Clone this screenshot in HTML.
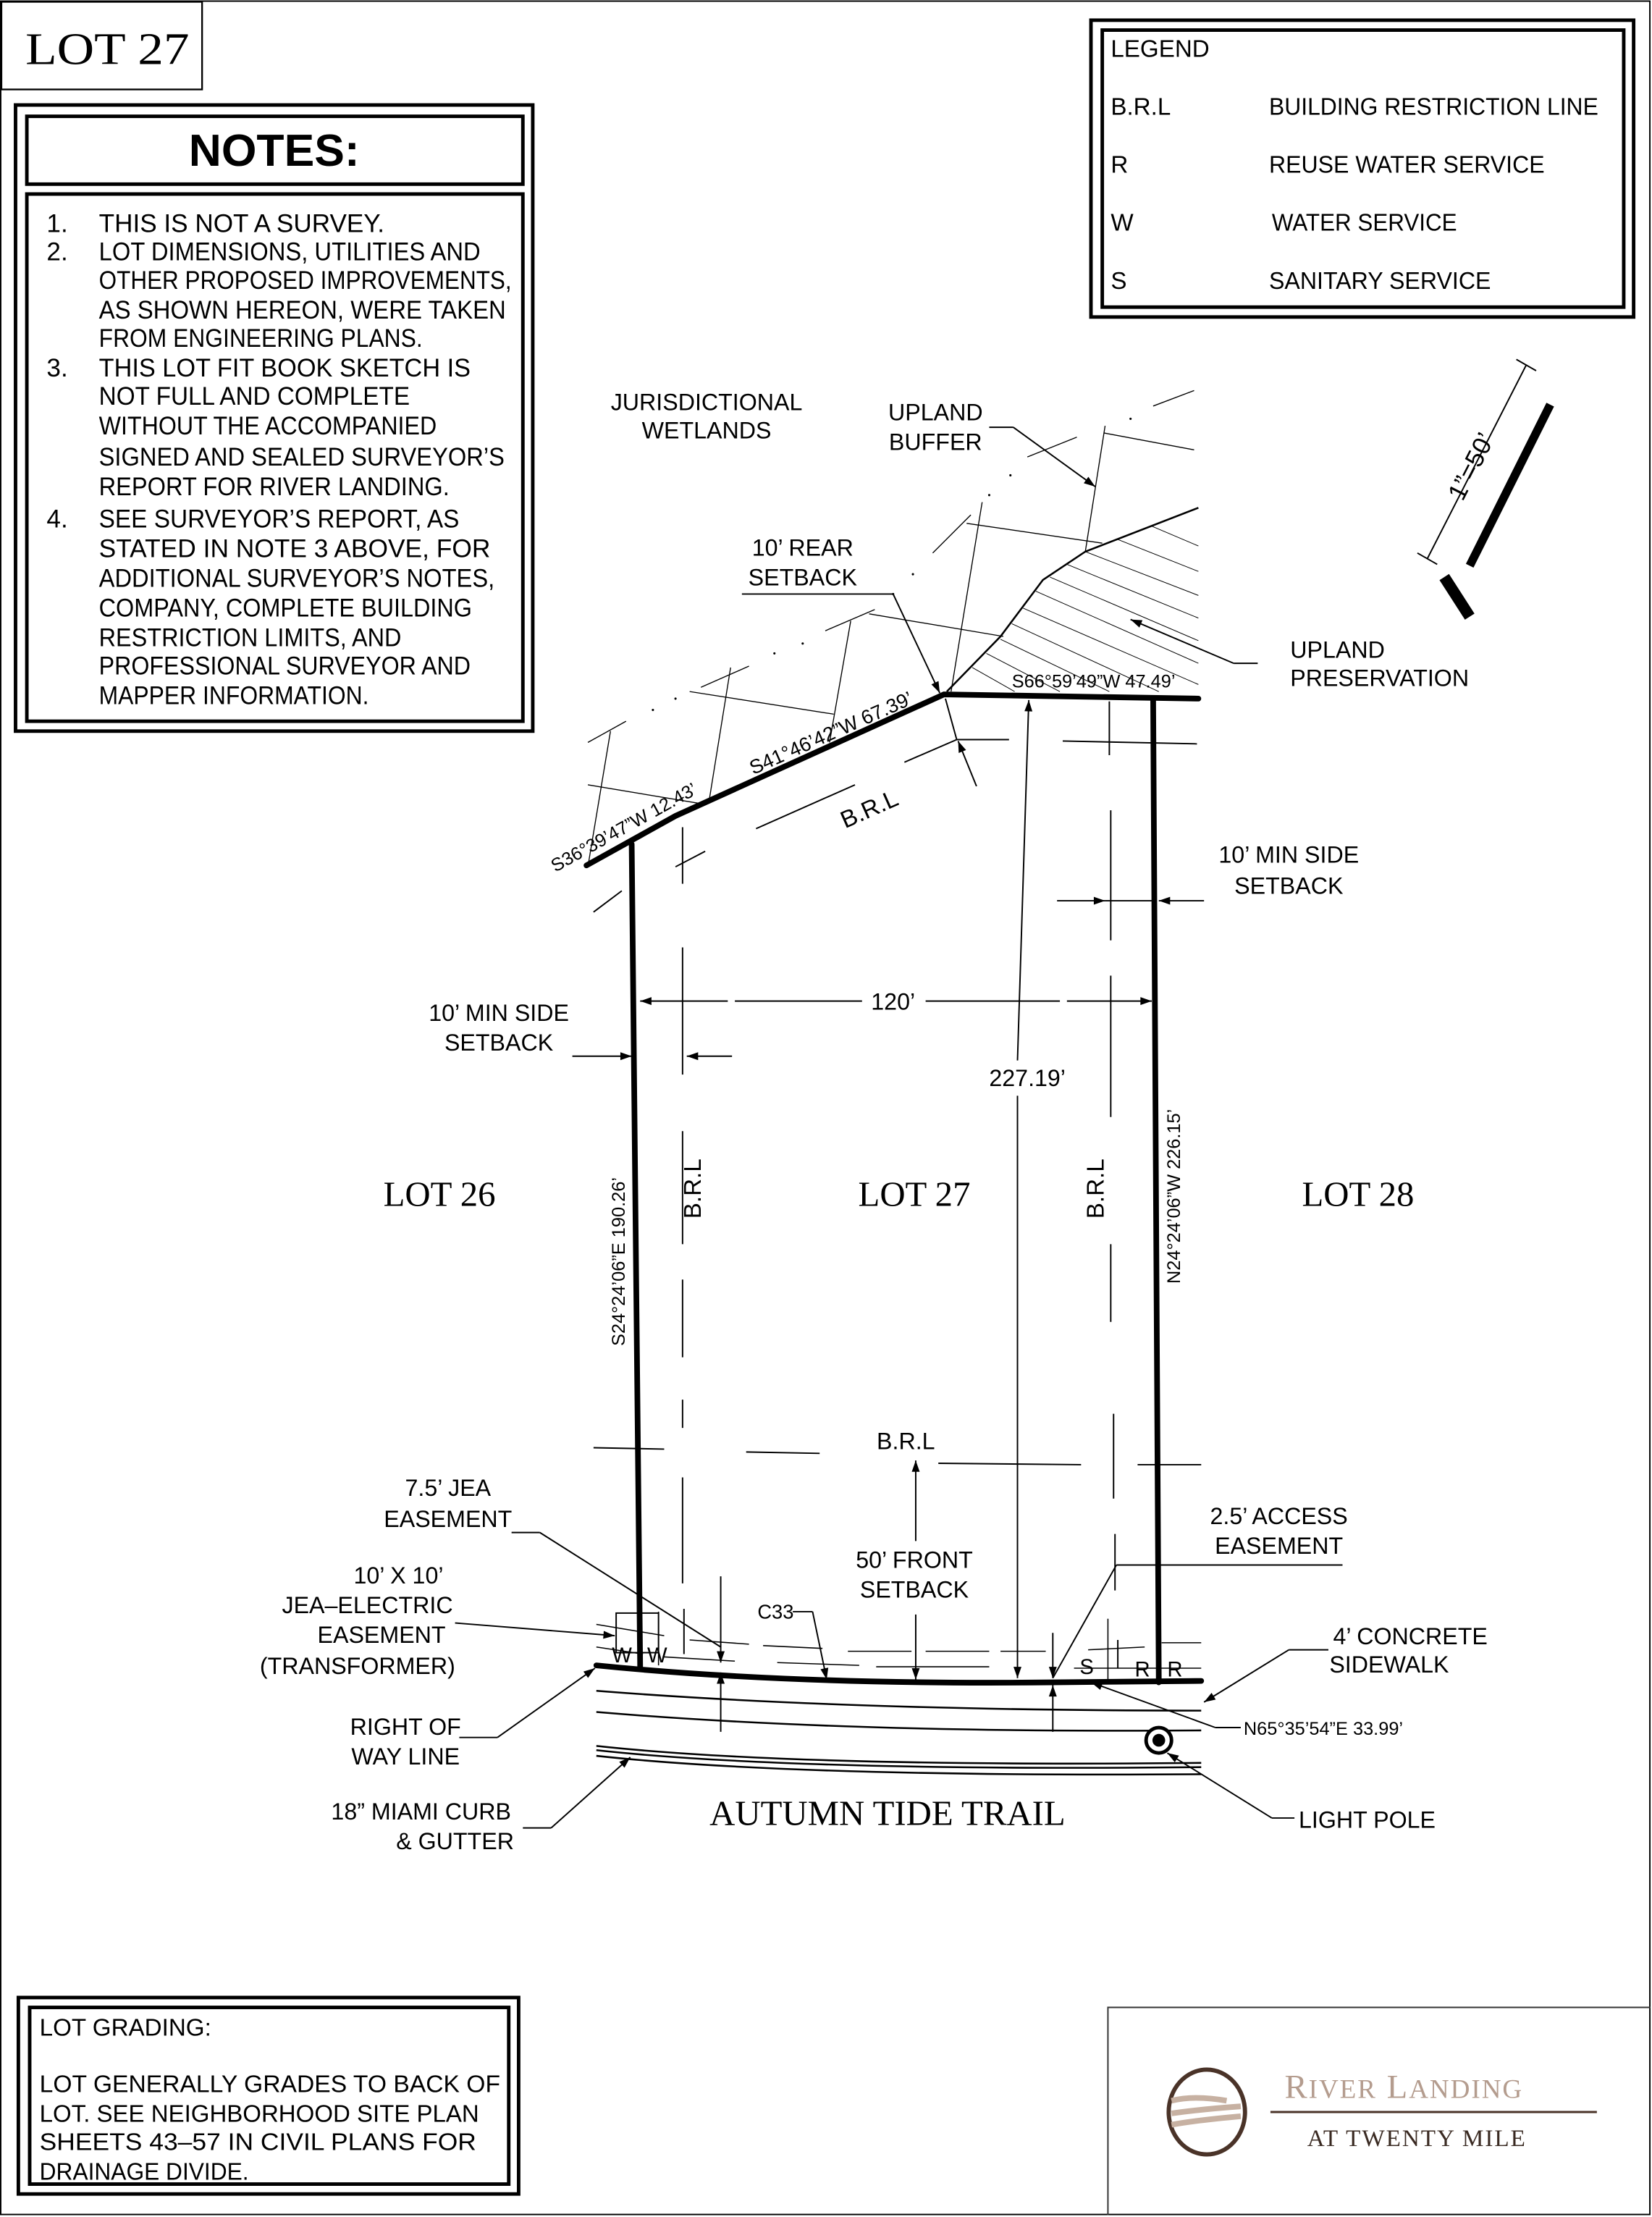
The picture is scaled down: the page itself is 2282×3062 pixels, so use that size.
<!DOCTYPE html>
<html><head><meta charset="utf-8"><style>
html,body{margin:0;padding:0;background:#fff}
svg{display:block}
text{font-family:"Liberation Sans Narrow","Liberation Sans",sans-serif;fill:#000}
.n{font-size:18px}
.s{font-family:"Liberation Serif",serif}
</style></head><body>
<svg width="2282" height="3062" viewBox="0 0 1169 1568" xmlns="http://www.w3.org/2000/svg">
<defs>
<marker id="a" viewBox="0 0 10 10" refX="10" refY="5" markerWidth="12" markerHeight="8" markerUnits="userSpaceOnUse" orient="auto"><path d="M0,1.5 L10,5 L0,8.5 z" fill="#000"/></marker>
</defs>
<rect x="0.5" y="0.5" width="1167" height="1566" fill="none" stroke="#000" stroke-width="1"/>
<rect x="1" y="1" width="142" height="62" fill="none" stroke="#000" stroke-width="1.2"/>
<text x="18" y="45" class="s" font-size="32" textLength="116" lengthAdjust="spacingAndGlyphs">LOT 27</text>
<rect x="11" y="74" width="366" height="443" fill="none" stroke="#000" stroke-width="2.5"/>
<rect x="19" y="82" width="351" height="48" fill="none" stroke="#000" stroke-width="2.5"/>
<rect x="19" y="137" width="351" height="373" fill="none" stroke="#000" stroke-width="2.5"/>
<text x="194" y="117" font-size="32" font-weight="bold" text-anchor="middle" style="font-family:'Liberation Sans',sans-serif">NOTES:</text>
<g class="n">
<text x="33" y="164" class="n">1.</text><text x="70" y="164" class="n" textLength="202" lengthAdjust="spacingAndGlyphs">THIS IS NOT A SURVEY.</text>
<text x="33" y="184" class="n">2.</text><text x="70" y="184" class="n" textLength="270" lengthAdjust="spacingAndGlyphs">LOT DIMENSIONS, UTILITIES AND</text>
<text x="70" y="204" class="n" textLength="292" lengthAdjust="spacingAndGlyphs">OTHER PROPOSED IMPROVEMENTS,</text>
<text x="70" y="225" class="n" textLength="288" lengthAdjust="spacingAndGlyphs">AS SHOWN HEREON, WERE TAKEN</text>
<text x="70" y="245" class="n" textLength="229" lengthAdjust="spacingAndGlyphs">FROM ENGINEERING PLANS.</text>
<text x="33" y="266" class="n">3.</text><text x="70" y="266" class="n" textLength="263" lengthAdjust="spacingAndGlyphs">THIS LOT FIT BOOK SKETCH IS</text>
<text x="70" y="286" class="n" textLength="220" lengthAdjust="spacingAndGlyphs">NOT FULL AND COMPLETE</text>
<text x="70" y="307" class="n" textLength="239" lengthAdjust="spacingAndGlyphs">WITHOUT THE ACCOMPANIED</text>
<text x="70" y="329" class="n" textLength="287" lengthAdjust="spacingAndGlyphs">SIGNED AND SEALED SURVEYOR’S</text>
<text x="70" y="350" class="n" textLength="248" lengthAdjust="spacingAndGlyphs">REPORT FOR RIVER LANDING.</text>
<text x="33" y="373" class="n">4.</text><text x="70" y="373" class="n" textLength="255" lengthAdjust="spacingAndGlyphs">SEE SURVEYOR’S REPORT, AS</text>
<text x="70" y="394" class="n" textLength="277" lengthAdjust="spacingAndGlyphs">STATED IN NOTE 3 ABOVE, FOR</text>
<text x="70" y="415" class="n" textLength="280" lengthAdjust="spacingAndGlyphs">ADDITIONAL SURVEYOR’S NOTES,</text>
<text x="70" y="436" class="n" textLength="264" lengthAdjust="spacingAndGlyphs">COMPANY, COMPLETE BUILDING</text>
<text x="70" y="457" class="n" textLength="214" lengthAdjust="spacingAndGlyphs">RESTRICTION LIMITS, AND</text>
<text x="70" y="477" class="n" textLength="263" lengthAdjust="spacingAndGlyphs">PROFESSIONAL SURVEYOR AND</text>
<text x="70" y="498" class="n" textLength="191" lengthAdjust="spacingAndGlyphs">MAPPER INFORMATION.</text>
</g>
<rect x="772" y="14" width="384" height="210" fill="none" stroke="#000" stroke-width="2.5"/>
<rect x="780" y="21" width="369" height="196" fill="none" stroke="#000" stroke-width="2.5"/>
<text x="786" y="40" font-size="17">LEGEND</text>
<text x="786" y="81" font-size="17">B.R.L</text><text x="898" y="81" font-size="17" textLength="233" lengthAdjust="spacingAndGlyphs">BUILDING RESTRICTION LINE</text>
<text x="786" y="122" font-size="17">R</text><text x="898" y="122" font-size="17" textLength="195" lengthAdjust="spacingAndGlyphs">REUSE WATER SERVICE</text>
<text x="786" y="163" font-size="17">W</text><text x="900" y="163" font-size="17" textLength="131" lengthAdjust="spacingAndGlyphs">WATER SERVICE</text>
<text x="786" y="204" font-size="17">S</text><text x="898" y="204" font-size="17" textLength="157" lengthAdjust="spacingAndGlyphs">SANITARY SERVICE</text>
<g stroke="#000">
<line x1="1080" y1="258" x2="1010" y2="395" stroke-width="1"/>
<line x1="1073" y1="254" x2="1087" y2="262" stroke-width="1"/>
<line x1="1003" y1="391" x2="1017" y2="399" stroke-width="1"/>
<line x1="1097" y1="286" x2="1040" y2="400" stroke-width="6"/>
<line x1="1022" y1="408" x2="1040" y2="436" stroke-width="8"/>
</g>
<text x="0" y="0" font-size="18" transform="translate(1035,355) rotate(-63)">1”=50’</text>

<!-- wetland / buffer thin lines -->
<g stroke="#000" stroke-width="0.7" fill="none">
<line x1="782" y1="301" x2="768" y2="390"/>
<line x1="781" y1="306" x2="845" y2="318"/>
<line x1="727" y1="323" x2="762" y2="309"/>
<line x1="816" y1="287" x2="845" y2="276"/>
<line x1="695" y1="355" x2="673" y2="489"/>
<line x1="660" y1="391" x2="687" y2="364"/>
<line x1="684" y1="370" x2="780" y2="384"/>
<line x1="584" y1="446" x2="619" y2="431"/>
<line x1="615" y1="434" x2="710" y2="450"/>
<line x1="602" y1="439" x2="587" y2="525"/>
<line x1="496" y1="486" x2="530" y2="471"/>
<line x1="488" y1="489" x2="590" y2="505"/>
<line x1="517" y1="472" x2="502" y2="565"/>
<line x1="416" y1="525" x2="443" y2="510"/>
<line x1="432" y1="517" x2="416" y2="613"/>
<line x1="416" y1="555" x2="494" y2="568"/>
</g>
<g fill="#000">
<circle cx="715" cy="336" r="0.8"/><circle cx="700" cy="350" r="0.8"/><circle cx="646" cy="406" r="0.8"/>
<circle cx="632" cy="420" r="0.8"/><circle cx="568" cy="455" r="0.8"/><circle cx="548" cy="462" r="0.8"/>
<circle cx="478" cy="494" r="0.8"/><circle cx="462" cy="502" r="0.8"/><circle cx="800" cy="296" r="0.8"/>
</g>
<path d="M670,489 L708,450 L738,410 L768,390 L848,359" fill="none" stroke="#000" stroke-width="1.3"/>
<g stroke="#000" stroke-width="0.5">
<line x1="790" y1="381" x2="848" y2="404"/>
<line x1="768" y1="390" x2="848" y2="421"/>
<line x1="755" y1="399" x2="848" y2="437"/>
<line x1="743" y1="408" x2="848" y2="453"/>
<line x1="733" y1="418" x2="848" y2="469"/>
<line x1="724" y1="430" x2="848" y2="484"/>
<line x1="716" y1="441" x2="820" y2="489"/>
<line x1="708" y1="452" x2="785" y2="489"/>
<line x1="698" y1="462" x2="750" y2="489"/>
<line x1="688" y1="472" x2="718" y2="489"/>
<line x1="815" y1="372" x2="848" y2="386"/>
</g>
<g stroke="#000" stroke-width="4" fill="none" stroke-linecap="round">
<polyline points="415,612 478,577 668,491 848,494"/>
<line x1="447" y1="597" x2="453" y2="1180"/>
<line x1="816" y1="494" x2="820" y2="1190"/>
<path d="M422,1178 Q560,1192 745,1190 L850,1189"/>
</g>
<g stroke="#000" stroke-width="1" fill="none">
<line x1="483" y1="585" x2="483" y2="625"/><line x1="483" y1="670" x2="483" y2="760"/>
<line x1="483" y1="800" x2="483" y2="880"/><line x1="483" y1="905" x2="483" y2="960"/>
<line x1="483" y1="990" x2="483" y2="1010"/><line x1="483" y1="1045" x2="483" y2="1120"/><line x1="484" y1="1138" x2="484" y2="1170"/>
<line x1="785" y1="496" x2="785" y2="534"/><line x1="786" y1="573" x2="786" y2="665"/>
<line x1="786" y1="690" x2="786" y2="790"/><line x1="786" y1="880" x2="786" y2="935"/>
<line x1="788" y1="1000" x2="788" y2="1060"/><line x1="789" y1="1085" x2="789" y2="1125"/><line x1="791" y1="1160" x2="791" y2="1180"/>
<line x1="420" y1="1024" x2="470" y2="1025"/><line x1="528" y1="1027" x2="580" y2="1028"/>
<line x1="664" y1="1035" x2="765" y2="1036"/><line x1="805" y1="1036" x2="850" y2="1036"/>
<line x1="640" y1="539" x2="677" y2="523"/><line x1="535" y1="586" x2="605" y2="555"/><line x1="499" y1="602" x2="478" y2="613"/>
<line x1="677" y1="523" x2="714" y2="523"/><line x1="752" y1="524" x2="847" y2="526"/>
<line x1="420" y1="645" x2="440" y2="630"/>
</g>
<g stroke="#000" stroke-width="1" fill="none">
<line x1="515" y1="708" x2="453" y2="708" marker-end="url(#a)"/>
<line x1="755" y1="708" x2="815" y2="708" marker-end="url(#a)"/>
<line x1="610" y1="708" x2="520" y2="708"/>
<line x1="655" y1="708" x2="750" y2="708"/>
<line x1="720" y1="750" x2="728" y2="495" marker-end="url(#a)"/>
<line x1="720" y1="775" x2="720" y2="1187" marker-end="url(#a)"/>
<line x1="405" y1="747" x2="447" y2="747" marker-end="url(#a)"/>
<line x1="518" y1="747" x2="486" y2="747" marker-end="url(#a)"/>
<line x1="748" y1="637" x2="782" y2="637" marker-end="url(#a)"/>
<line x1="852" y1="637" x2="820" y2="637" marker-end="url(#a)"/>
<line x1="782" y1="637" x2="815" y2="637"/>
<line x1="648" y1="1090" x2="648" y2="1033" marker-end="url(#a)"/>
<line x1="648" y1="1142" x2="648" y2="1188" marker-end="url(#a)"/>
<line x1="525" y1="420" x2="632" y2="420"/>
<line x1="632" y1="420" x2="665" y2="490" marker-end="url(#a)"/>
<line x1="669" y1="494" x2="677" y2="523"/>
<line x1="691" y1="556" x2="678" y2="524" marker-end="url(#a)"/>
<line x1="700" y1="302" x2="717" y2="302"/><line x1="717" y1="302" x2="775" y2="344" marker-end="url(#a)"/>
<line x1="890" y1="469" x2="873" y2="469"/><line x1="873" y1="469" x2="800" y2="438" marker-end="url(#a)"/>
<line x1="362" y1="1084" x2="382" y2="1084"/><line x1="382" y1="1084" x2="510" y2="1165"/>
<line x1="510" y1="1115" x2="510" y2="1176" marker-end="url(#a)"/>
<line x1="510" y1="1225" x2="510" y2="1183" marker-end="url(#a)"/>
<line x1="322" y1="1148" x2="435" y2="1157" marker-end="url(#a)"/>
<rect x="436" y="1141" width="30" height="28"/>
<line x1="325" y1="1229" x2="352" y2="1229"/><line x1="352" y1="1229" x2="421" y2="1180" marker-end="url(#a)"/>
<line x1="370" y1="1293" x2="390" y2="1293"/><line x1="390" y1="1293" x2="446" y2="1243" marker-end="url(#a)"/>
<line x1="561" y1="1140" x2="575" y2="1140"/><line x1="575" y1="1140" x2="585" y2="1188" marker-end="url(#a)"/>
<line x1="950" y1="1107" x2="790" y2="1107"/><line x1="790" y1="1107" x2="745" y2="1187"/>
<line x1="745" y1="1155" x2="745" y2="1187" marker-end="url(#a)"/>
<line x1="745" y1="1225" x2="745" y2="1192" marker-end="url(#a)"/>
<line x1="940" y1="1167" x2="912" y2="1167"/><line x1="912" y1="1167" x2="852" y2="1204" marker-end="url(#a)"/>
<line x1="878" y1="1222" x2="860" y2="1222"/><line x1="860" y1="1222" x2="772" y2="1190" marker-end="url(#a)"/>
<line x1="916" y1="1286" x2="900" y2="1286"/><line x1="900" y1="1286" x2="826" y2="1240" marker-end="url(#a)"/>
</g>
<g stroke="#000" stroke-width="0.8" fill="none">
<path d="M422,1149 L470,1157 M488,1160 L530,1163 M540,1164 L582,1166 M600,1168 L645,1168 M655,1168 L700,1168 M708,1168 L740,1168 M770,1167 L810,1165 M822,1162 L850,1162"/>
<path d="M422,1165 L455,1170 M470,1172 L520,1175 M550,1176 L608,1178 M620,1179 L700,1179 M760,1180 L850,1180"/>
<line x1="466" y1="1140" x2="466" y2="1178"/>
<line x1="784" y1="1145" x2="784" y2="1190"/>
</g>
<text x="433" y="1176" font-size="15">W</text><text x="458" y="1176" font-size="15">W</text>
<text x="764" y="1184" font-size="15">S</text><text x="803" y="1186" font-size="15">R</text><text x="826" y="1186" font-size="15">R</text>
<g stroke="#000" stroke-width="1.3" fill="none">
<path d="M422,1196 Q600,1210 850,1210"/>
<path d="M422,1211 Q600,1226 850,1224"/>
<path d="M422,1235 Q560,1250 850,1247"/>
<path d="M422,1238 Q560,1253 850,1250"/>
<path d="M422,1242 Q560,1257 850,1255"/>
</g>
<circle cx="820" cy="1231" r="9" fill="#fff" stroke="#000" stroke-width="2.5"/>
<circle cx="820" cy="1231" r="4.5" fill="#000"/>
<g>
<text x="500" y="290" text-anchor="middle" font-size="16.5">JURISDICTIONAL</text>
<text x="500" y="310" text-anchor="middle" font-size="16.5">WETLANDS</text>
<text x="662" y="297" text-anchor="middle" font-size="16.5">UPLAND</text>
<text x="662" y="318" text-anchor="middle" font-size="16.5">BUFFER</text>
<text x="568" y="393" text-anchor="middle" font-size="16.5">10’ REAR</text>
<text x="568" y="414" text-anchor="middle" font-size="16.5">SETBACK</text>
<text x="913" y="465" font-size="16.5">UPLAND</text>
<text x="913" y="485" font-size="16.5">PRESERVATION</text>
<text x="912" y="610" text-anchor="middle" font-size="16.5">10’ MIN SIDE</text>
<text x="912" y="632" text-anchor="middle" font-size="16.5">SETBACK</text>
<text x="353" y="722" text-anchor="middle" font-size="16.5">10’ MIN SIDE</text>
<text x="353" y="743" text-anchor="middle" font-size="16.5">SETBACK</text>
<text x="632" y="714" text-anchor="middle" font-size="16.5">120’</text>
<text x="727" y="768" text-anchor="middle" font-size="16.5">227.19’</text>
<text x="641" y="1025" text-anchor="middle" font-size="16.5">B.R.L</text>
<text x="647" y="1109" text-anchor="middle" font-size="16.5">50’ FRONT</text>
<text x="647" y="1130" text-anchor="middle" font-size="16.5">SETBACK</text>
<text x="317" y="1058" text-anchor="middle" font-size="16.5">7.5’ JEA</text>
<text x="317" y="1080" text-anchor="middle" font-size="16.5">EASEMENT</text>
<text x="282" y="1120" text-anchor="middle" font-size="16.5">10’ X 10’</text>
<text x="260" y="1141" text-anchor="middle" font-size="16.5">JEA–ELECTRIC</text>
<text x="270" y="1162" text-anchor="middle" font-size="16.5">EASEMENT</text>
<text x="253" y="1184" text-anchor="middle" font-size="16.5">(TRANSFORMER)</text>
<text x="287" y="1227" text-anchor="middle" font-size="16.5">RIGHT OF</text>
<text x="287" y="1248" text-anchor="middle" font-size="16.5">WAY LINE</text>
<text x="298" y="1287" text-anchor="middle" font-size="16.5">18” MIAMI CURB</text>
<text x="322" y="1308" text-anchor="middle" font-size="16.5">&amp; GUTTER</text>
<text x="905" y="1078" text-anchor="middle" font-size="16.5">2.5’ ACCESS</text>
<text x="905" y="1099" text-anchor="middle" font-size="16.5">EASEMENT</text>
<text x="998" y="1163" text-anchor="middle" font-size="16.5">4’ CONCRETE</text>
<text x="983" y="1183" text-anchor="middle" font-size="16.5">SIDEWALK</text>
<text x="919" y="1293" font-size="16.5">LIGHT POLE</text>
<text x="536" y="1145" font-size="14">C33</text>
<text x="880" y="1227" font-size="13">N65°35’54”E 33.99’</text>
<text x="716" y="486" font-size="13">S66°59’49”W 47.49’</text>
</g>
<text font-size="14" transform="translate(533,548) rotate(-24)">S41°46’42”W 67.39’</text>
<text font-size="13" transform="translate(393,617) rotate(-29)">S36°39’47”W 12.43’</text>
<text font-size="17" transform="translate(598,586) rotate(-24)">B.R.L</text>
<text font-size="13" transform="translate(442,952) rotate(-90)">S24°24’06”E 190.26’</text>
<text font-size="13" transform="translate(835,908) rotate(-90)">N24°24’06”W 226.15’</text>
<text font-size="17" transform="translate(496,862) rotate(-90)">B.R.L</text>
<text font-size="17" transform="translate(781,862) rotate(-90)">B.R.L</text>
<text x="311" y="853" class="s" font-size="25" text-anchor="middle">LOT 26</text>
<text x="647" y="853" class="s" font-size="25" text-anchor="middle">LOT 27</text>
<text x="961" y="853" class="s" font-size="25" text-anchor="middle">LOT 28</text>
<text x="628" y="1291" class="s" font-size="25" text-anchor="middle">AUTUMN TIDE TRAIL</text>
<rect x="13" y="1413" width="354" height="139" fill="none" stroke="#000" stroke-width="2.5"/>
<rect x="21" y="1420" width="339" height="125" fill="none" stroke="#000" stroke-width="2.5"/>
<text x="28" y="1440" font-size="17">LOT GRADING:</text>
<text x="28" y="1480" font-size="17" textLength="326" lengthAdjust="spacingAndGlyphs">LOT GENERALLY GRADES TO BACK OF</text>
<text x="28" y="1501" font-size="17" textLength="311" lengthAdjust="spacingAndGlyphs">LOT. SEE NEIGHBORHOOD SITE PLAN</text>
<text x="28" y="1521" font-size="17" textLength="309" lengthAdjust="spacingAndGlyphs">SHEETS 43–57 IN CIVIL PLANS FOR</text>
<text x="28" y="1542" font-size="17" textLength="148" lengthAdjust="spacingAndGlyphs">DRAINAGE DIVIDE.</text>
<path d="M784,1567 L784,1420 L1168,1420" fill="none" stroke="#333" stroke-width="1"/>
<ellipse cx="854" cy="1494" rx="27" ry="30" fill="none" stroke="#4a3328" stroke-width="3"/>
<path d="M829,1486 Q845,1482 868,1486 M829,1495 Q850,1492 878,1490 M829,1503 Q845,1500 878,1497" stroke="#c7b1a2" stroke-width="4" fill="none"/>
<text x="909" y="1484" class="s" font-size="24" style="fill:#b49c8e;letter-spacing:1px">R<tspan font-size="19">IVER</tspan> L<tspan font-size="19">ANDING</tspan></text>
<line x1="899" y1="1494" x2="1130" y2="1494" stroke="#4a3328" stroke-width="1.5"/>
<text x="925" y="1518" class="s" font-size="17" style="fill:#3a2a22;letter-spacing:1px">AT TWENTY MILE</text>
</svg>
</body></html>
